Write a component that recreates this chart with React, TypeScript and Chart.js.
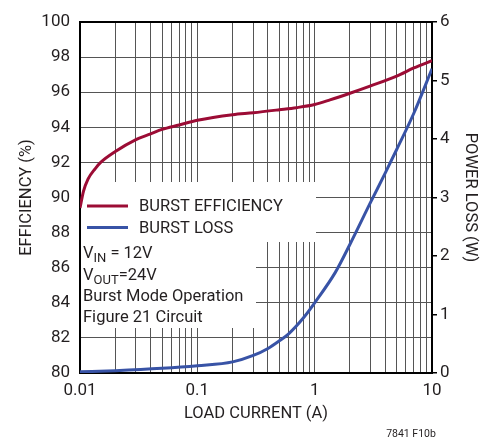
import React, { useEffect, useRef } from "react";
import { Chart, registerables } from "chart.js";

Chart.register(...registerables);

// ---- data ----
const effCurrent = [0.01, 0.0107, 0.0117, 0.0135, 0.015, 0.02, 0.03, 0.04, 0.05, 0.07, 0.1, 0.2, 0.3, 0.5, 0.7, 1, 1.35, 2, 3, 5, 7, 10];
const burstEfficiency = [89.4, 90.35, 91.05, 91.65, 92.0, 92.62, 93.3, 93.62, 93.88, 94.13, 94.4, 94.72, 94.83, 95.0, 95.12, 95.3, 95.56, 95.94, 96.36, 96.92, 97.38, 97.8];

const lossCurrent = [0.01, 0.02, 0.05, 0.1, 0.2, 0.3, 0.4, 0.5, 0.6, 0.8, 1, 1.5, 2, 3, 4, 5, 7, 10];
const burstLoss = [0.02, 0.04, 0.08, 0.125, 0.19, 0.3, 0.42, 0.55, 0.67, 0.94, 1.2, 1.72, 2.2, 2.92, 3.42, 3.82, 4.44, 5.2];

const xGridValues = [
  0.01, 0.02, 0.03, 0.04, 0.05, 0.06, 0.07, 0.08, 0.09,
  0.1, 0.2, 0.3, 0.4, 0.5, 0.6, 0.7, 0.8, 0.9,
  1, 2, 3, 4, 5, 6, 7, 8, 9, 10,
];
const xTickLabels: Record<string, string> = { "0.01": "0.01", "0.1": "0.1", "1": "1", "10": "10" };

const seriesLabels = ["BURST EFFICIENCY", "BURST LOSS"];
const seriesColors = ["#9c0c35", "#3853a6"];

const noteLines: { text: string; sub?: boolean }[][] = [
  [{ text: "V" }, { text: "IN", sub: true }, { text: " = 12V" }],
  [{ text: "V" }, { text: "OUT", sub: true }, { text: "=24V" }],
  [{ text: "Burst Mode Operation" }],
  [{ text: "Figure 21 Circuit" }],
];
const figureCode = "7841 F10b";

const FONT = "Roboto, 'Liberation Sans', Arial, sans-serif";
const TEXT = "#231f20";
const GRID = "#555";

const overlayPlugin = {
  id: "overlay",
  beforeDatasetsDraw(chart: any) {
    const { ctx, chartArea } = chart;
    const l = chartArea.left + 1;
    ctx.save();
    ctx.fillStyle = "#fff";
    // legend box
    ctx.fillRect(l, 182, 316 - l, 242 - 182);
    // note box
    ctx.fillRect(l, 242, 256 - l, 328 - 242);
    ctx.restore();
  },
  afterDatasetsDraw(chart: any) {
    const { ctx } = chart;
    ctx.save();
    // legend
    const legendY = [206, 227.5];
    seriesLabels.forEach((lab, i) => {
      ctx.strokeStyle = seriesColors[i];
      ctx.lineWidth = 3;
      ctx.beginPath();
      ctx.moveTo(87, legendY[i]);
      ctx.lineTo(128, legendY[i]);
      ctx.stroke();
      ctx.fillStyle = TEXT;
      ctx.font = `16.5px ${FONT}`;
      ctx.textBaseline = "middle";
      ctx.textAlign = "left";
      ctx.fillText(lab, 139, legendY[i] + 1);
    });
    // notes
    const baselines = [258, 280, 301, 322];
    ctx.textBaseline = "alphabetic";
    noteLines.forEach((runs, i) => {
      let x = 83;
      runs.forEach((r) => {
        ctx.font = r.sub ? `13px ${FONT}` : `16.5px ${FONT}`;
        ctx.fillText(r.text, x, baselines[i] + (r.sub ? 4 : 0));
        x += ctx.measureText(r.text).width;
      });
    });
    // figure code
    ctx.font = `10.5px ${FONT}`;
    ctx.textAlign = "center";
    ctx.textBaseline = "middle";
    ctx.fillText(figureCode, 411, 434);
    ctx.restore();
  },
};

export default function App() {
  const ref = useRef<HTMLCanvasElement | null>(null);
  useEffect(() => {
    if (!ref.current) return;
    const chart = new Chart(ref.current, {
      type: "line",
      data: {
        datasets: [
          {
            label: seriesLabels[0],
            data: effCurrent.map((x, i) => ({ x, y: burstEfficiency[i] })),
            borderColor: seriesColors[0],
            borderWidth: 3,
            pointRadius: 0,
            cubicInterpolationMode: "monotone",
            yAxisID: "y",
          },
          {
            label: seriesLabels[1],
            data: lossCurrent.map((x, i) => ({ x, y: burstLoss[i] })),
            borderColor: seriesColors[1],
            borderWidth: 3,
            pointRadius: 0,
            cubicInterpolationMode: "monotone",
            yAxisID: "y2",
          },
        ],
      },
      options: {
        animation: false,
        responsive: false,
        devicePixelRatio: 1,
        layout: { padding: { top: 22, left: 0, right: 0, bottom: 0 } },
        plugins: { legend: { display: false }, tooltip: { enabled: false } },
        scales: {
          x: {
            type: "logarithmic",
            position: "bottom",
            min: 0.01,
            max: 10,
            afterBuildTicks: (s: any) => {
              s.ticks = xGridValues.map((v) => ({ value: v, major: !!xTickLabels[String(v)] }));
            },
            afterFit: (s: any) => {
              s.height = 66;
            },
            ticks: {
              autoSkip: false,
              maxRotation: 0,
              padding: 8,
              color: TEXT,
              font: { family: FONT, size: 17 },
              callback: (v: any) => xTickLabels[String(v)] ?? "",
            },
            grid: { color: GRID, lineWidth: 1, drawTicks: false },
            border: { color: "#000", width: 2 },
            title: {
              display: true,
              text: "LOAD CURRENT (A)",
              color: TEXT,
              font: { family: FONT, size: 16.5 },
              padding: { top: 0, bottom: 15 },
            },
          },
          y: {
            type: "linear",
            position: "left",
            min: 80,
            max: 100,
            afterFit: (s: any) => {
              s.width = 80;
            },
            ticks: {
              stepSize: 2,
              padding: 10,
              color: TEXT,
              font: { family: FONT, size: 17 },
            },
            grid: {
              color: (c: any) => (c.tick && c.tick.value === 100 ? "#000" : GRID),
              lineWidth: (c: any) => (c.tick && c.tick.value === 100 ? 2 : 1),
              drawTicks: false,
            },
            border: { color: "#000", width: 2 },
            title: {
              display: true,
              text: "EFFICIENCY (%)",
              color: TEXT,
              font: { family: FONT, size: 16.5 },
              padding: { top: 17, bottom: 0 },
            },
          },
          y2: {
            type: "linear",
            position: "right",
            min: 0,
            max: 6,
            afterFit: (s: any) => {
              s.width = 60;
            },
            ticks: {
              stepSize: 1,
              padding: 3,
              color: TEXT,
              font: { family: FONT, size: 17 },
            },
            grid: { drawOnChartArea: false, drawTicks: true, tickLength: 5, color: "#000", lineWidth: 1.5 },
            border: { color: "#000", width: 2 },
            title: {
              display: true,
              text: "POWER LOSS (W)",
              color: TEXT,
              font: { family: FONT, size: 16.5 },
              padding: { top: 12, bottom: 0 },
            },
          },
        },
      },
      plugins: [overlayPlugin],
    } as any);
    return () => chart.destroy();
  }, []);
  return (
    <div style={{ position: "fixed", left: 0, top: 0, width: 492, height: 439, background: "#fff" }}>
      <canvas ref={ref} width={492} height={439} style={{ display: "block" }} />
    </div>
  );
}
